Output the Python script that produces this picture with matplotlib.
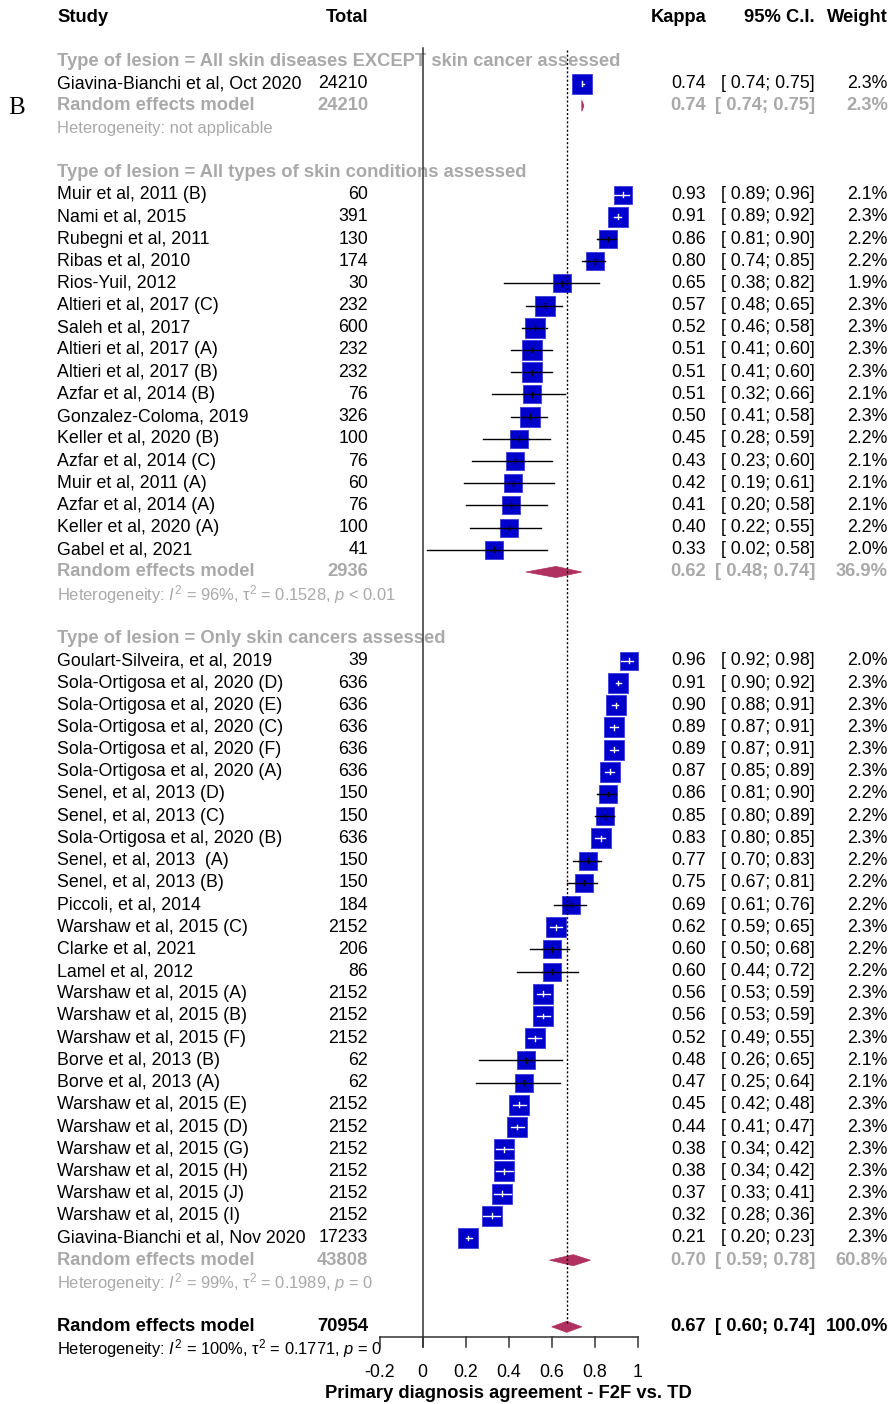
import numpy as np
import matplotlib.pyplot as plt
from matplotlib.transforms import blended_transform_factory

plt.rcParams['font.family'] = 'Liberation Sans'
plt.rcParams['mathtext.fontset'] = 'custom'
plt.rcParams['mathtext.rm'] = 'Liberation Sans'
plt.rcParams['mathtext.it'] = 'Liberation Sans:italic'
plt.rcParams['mathtext.bf'] = 'Liberation Sans:bold'

# ---- data ----
group_labels = [
    "Type of lesion = All skin diseases EXCEPT skin cancer assessed",
    "Type of lesion = All types of skin conditions assessed",
    "Type of lesion = Only skin cancers assessed",
]

g1_study = ["Giavina-Bianchi et al, Oct 2020"]
g1_total = [24210]
g1_kappa = [0.74]
g1_lo = [0.74]
g1_hi = [0.75]
g1_w = [2.3]

g2_study = ["Muir et al, 2011 (B)", "Nami et al, 2015", "Rubegni et al, 2011",
            "Ribas et al, 2010", "Rios-Yuil, 2012", "Altieri et al, 2017 (C)",
            "Saleh et al, 2017", "Altieri et al, 2017 (A)", "Altieri et al, 2017 (B)",
            "Azfar et al, 2014 (B)", "Gonzalez-Coloma, 2019", "Keller et al, 2020 (B)",
            "Azfar et al, 2014 (C)", "Muir et al, 2011 (A)", "Azfar et al, 2014 (A)",
            "Keller et al, 2020 (A)", "Gabel et al, 2021"]
g2_total = [60, 391, 130, 174, 30, 232, 600, 232, 232, 76, 326, 100, 76, 60, 76, 100, 41]
g2_kappa = [0.93, 0.91, 0.86, 0.80, 0.65, 0.57, 0.52, 0.51, 0.51, 0.51, 0.50, 0.45,
            0.43, 0.42, 0.41, 0.40, 0.33]
g2_lo = [0.89, 0.89, 0.81, 0.74, 0.38, 0.48, 0.46, 0.41, 0.41, 0.32, 0.41, 0.28,
         0.23, 0.19, 0.20, 0.22, 0.02]
g2_hi = [0.96, 0.92, 0.90, 0.85, 0.82, 0.65, 0.58, 0.60, 0.60, 0.66, 0.58, 0.59,
         0.60, 0.61, 0.58, 0.55, 0.58]
g2_w = [2.1, 2.3, 2.2, 2.2, 1.9, 2.3, 2.3, 2.3, 2.3, 2.1, 2.3, 2.2, 2.1, 2.1, 2.1, 2.2, 2.0]

g3_study = ["Goulart-Silveira, et al, 2019", "Sola-Ortigosa et al, 2020 (D)",
            "Sola-Ortigosa et al, 2020 (E)", "Sola-Ortigosa et al, 2020 (C)",
            "Sola-Ortigosa et al, 2020 (F)", "Sola-Ortigosa et al, 2020 (A)",
            "Senel, et al, 2013 (D)", "Senel, et al, 2013 (C)",
            "Sola-Ortigosa et al, 2020 (B)", "Senel, et al, 2013  (A)",
            "Senel, et al, 2013 (B)", "Piccoli, et al, 2014", "Warshaw et al, 2015 (C)",
            "Clarke et al, 2021", "Lamel et al, 2012", "Warshaw et al, 2015 (A)",
            "Warshaw et al, 2015 (B)", "Warshaw et al, 2015 (F)", "Borve et al, 2013 (B)",
            "Borve et al, 2013 (A)", "Warshaw et al, 2015 (E)", "Warshaw et al, 2015 (D)",
            "Warshaw et al, 2015 (G)", "Warshaw et al, 2015 (H)", "Warshaw et al, 2015 (J)",
            "Warshaw et al, 2015 (I)", "Giavina-Bianchi et al, Nov 2020"]
g3_total = [39, 636, 636, 636, 636, 636, 150, 150, 636, 150, 150, 184, 2152, 206, 86,
            2152, 2152, 2152, 62, 62, 2152, 2152, 2152, 2152, 2152, 2152, 17233]
g3_kappa = [0.96, 0.91, 0.90, 0.89, 0.89, 0.87, 0.86, 0.85, 0.83, 0.77, 0.75, 0.69,
            0.62, 0.60, 0.60, 0.56, 0.56, 0.52, 0.48, 0.47, 0.45, 0.44, 0.38, 0.38,
            0.37, 0.32, 0.21]
g3_lo = [0.92, 0.90, 0.88, 0.87, 0.87, 0.85, 0.81, 0.80, 0.80, 0.70, 0.67, 0.61,
         0.59, 0.50, 0.44, 0.53, 0.53, 0.49, 0.26, 0.25, 0.42, 0.41, 0.34, 0.34,
         0.33, 0.28, 0.20]
g3_hi = [0.98, 0.92, 0.91, 0.91, 0.91, 0.89, 0.90, 0.89, 0.85, 0.83, 0.81, 0.76,
         0.65, 0.68, 0.72, 0.59, 0.59, 0.55, 0.65, 0.64, 0.48, 0.47, 0.42, 0.42,
         0.41, 0.36, 0.23]
g3_w = [2.0, 2.3, 2.3, 2.3, 2.3, 2.3, 2.2, 2.2, 2.3, 2.2, 2.2, 2.2, 2.3, 2.2, 2.2,
        2.3, 2.3, 2.3, 2.1, 2.1, 2.3, 2.3, 2.3, 2.3, 2.3, 2.3, 2.3]

# subgroup random effects: total, kappa, lo, hi, weight
re_total = [24210, 2936, 43808]
re_kappa = [0.74, 0.62, 0.70]
re_lo = [0.74, 0.48, 0.59]
re_hi = [0.75, 0.74, 0.78]
re_w = [2.3, 36.9, 60.8]
het_text = [
    "Heterogeneity: not applicable",
    r"Heterogeneity: $\mathit{I}^2$ = 96%, τ$^2$ = 0.1528, $\mathit{p}$ < 0.01",
    r"Heterogeneity: $\mathit{I}^2$ = 99%, τ$^2$ = 0.1989, $\mathit{p}$ = 0",
]

overall_total = 70954
overall_kappa, overall_lo, overall_hi, overall_w = 0.67, 0.60, 0.74, 100.0
overall_het = r"Heterogeneity: $\mathit{I}^2$ = 100%, τ$^2$ = 0.1771, $\mathit{p}$ = 0"

xticks = [-0.2, 0, 0.2, 0.4, 0.6, 0.8, 1]
xtick_labels = ["-0.2", "0", "0.2", "0.4", "0.6", "0.8", "1"]
xlabel = "Primary diagnosis agreement - F2F vs. TD"

groups = [
    (g1_study, g1_total, g1_kappa, g1_lo, g1_hi, g1_w),
    (g2_study, g2_total, g2_kappa, g2_lo, g2_hi, g2_w),
    (g3_study, g3_total, g3_kappa, g3_lo, g3_hi, g3_w),
]

# ---- layout ----
W, H = 891, 1404
PX0, PXU = 422.7, 215.0      # pixel of kappa 0, pixels per kappa unit
RY0, RDY = 17.0, 22.2        # pixel of row 0, pixels per row
FS = 12.8
FS_BOLD = 13.2
FS_HET = 11.9
GRAY = '#a9a9a9'
BLUE = '#0000cd'
MAROON = '#b03060'

fig = plt.figure(figsize=(W / 100, H / 100), dpi=100)
ax = fig.add_axes([0, 0, 1, 1])
ax.set_xlim(-PX0 / PXU, (W - PX0) / PXU)
ax.set_ylim((H - RY0) / RDY, -RY0 / RDY)
ax.axis('off')
tr = blended_transform_factory(fig.transFigure, ax.transData)

X_STUDY = 57 / W
X_TOTAL = 368 / W
X_KAPPA = 706 / W
X_CI = 815 / W
X_WEIGHT = 888 / W


def row_text(r, name, total, k, lo, hi, w, color='black', weight='normal'):
    fs = FS_BOLD if weight == 'bold' else FS
    kw = dict(transform=tr, va='center', fontsize=fs, color=color, fontweight=weight, zorder=1)
    ax.text(X_STUDY, r, name, ha='left', **kw)
    ax.text(X_TOTAL, r, str(total), ha='right', **kw)
    ax.text(X_KAPPA, r, f"{k:.2f}", ha='right', **kw)
    ax.text(X_CI, r, f"[{lo:5.2f}; {hi:.2f}]", ha='right', **kw)
    ax.text(X_WEIGHT, r, f"{w:.1f}%", ha='right', **kw)


def diamond(r, k, lo, hi):
    h = 0.25
    ax.fill([lo, k, hi, k], [r, r - h, r, r + h], color=MAROON, lw=0.5, zorder=3)


# headers
hkw = dict(transform=tr, va='center', fontsize=FS_BOLD, fontweight='bold')
ax.text(X_STUDY, 0, "Study", ha='left', **hkw)
ax.text(X_TOTAL, 0, "Total", ha='right', **hkw)
ax.text(X_KAPPA, 0, "Kappa", ha='right', **hkw)
ax.text(X_CI, 0, "95% C.I.", ha='right', **hkw)
ax.text(X_WEIGHT, 0, "Weight", ha='right', **hkw)
ax.text(8 / W, (108 - RY0) / RDY, "B", transform=tr, va='center', ha='left',
        fontsize=18, family='Liberation Serif')

r = 2
for gi, (study, total, kappa, lo, hi, w) in enumerate(groups):
    ax.text(X_STUDY, r, group_labels[gi], transform=tr, va='center', ha='left',
            fontsize=FS_BOLD, color=GRAY, fontweight='bold', zorder=1)
    r += 1
    for i in range(len(study)):
        row_text(r, study[i], total[i], kappa[i], lo[i], hi[i], w[i])
        side_px = 12.53 * np.sqrt(w[i])
        half = side_px / 2 / PXU
        ax.scatter([kappa[i]], [r], marker='s', s=(side_px * 0.72) ** 2,
                   color=BLUE, edgecolors='#3c3cd8', linewidths=0.6, zorder=3)
        inside = lo[i] >= kappa[i] - half and hi[i] <= kappa[i] + half
        ax.plot([lo[i], hi[i]], [r, r], color='black', lw=1, zorder=2)
        c = 'white' if inside else 'black'
        ax.plot([max(lo[i], kappa[i] - half), min(hi[i], kappa[i] + half)], [r, r],
                color=c, lw=1, zorder=4)
        ax.plot([kappa[i], kappa[i]], [r - 0.11, r + 0.11], color=c, lw=1, zorder=4)
        r += 1
    row_text(r, "Random effects model", re_total[gi], re_kappa[gi], re_lo[gi],
             re_hi[gi], re_w[gi], color=GRAY, weight='bold')
    diamond(r, re_kappa[gi], re_lo[gi], re_hi[gi])
    ax.text(X_STUDY, r + 1, het_text[gi], transform=tr, va='center', ha='left',
            fontsize=FS_HET, color=GRAY, zorder=1)
    r += 3

# overall
row_text(r, "Random effects model", overall_total, overall_kappa, overall_lo,
         overall_hi, overall_w, weight='bold')
diamond(r, overall_kappa, overall_lo, overall_hi)
ax.text(X_STUDY, r + 1, overall_het, transform=tr, va='center', ha='left',
        fontsize=FS_HET, zorder=1)

# reference lines
y_axis = r + 0.46
ax.plot([0, 0], [1.4, y_axis + 0.45], color='#333333', lw=1.1, zorder=5)
ax.plot([overall_kappa, overall_kappa], [1.5, r - 0.1], color='black', lw=1,
        ls=(0, (1.5, 1.5)), zorder=5)

# x axis
ax.plot([xticks[0], xticks[-1]], [y_axis, y_axis], color='#333333', lw=1.1, zorder=5)
for t, lab in zip(xticks, xtick_labels):
    ax.plot([t, t], [y_axis, y_axis + 0.45], color='#333333', lw=1.1, zorder=5)
    ax.text(t, y_axis + 1.6, lab, ha='center', va='center', fontsize=FS)
ax.text((xticks[0] + xticks[-1]) / 2, y_axis + 2.55, xlabel, ha='center', va='center',
        fontsize=FS_BOLD, fontweight='bold')

fig.savefig('out.png', dpi=100)
